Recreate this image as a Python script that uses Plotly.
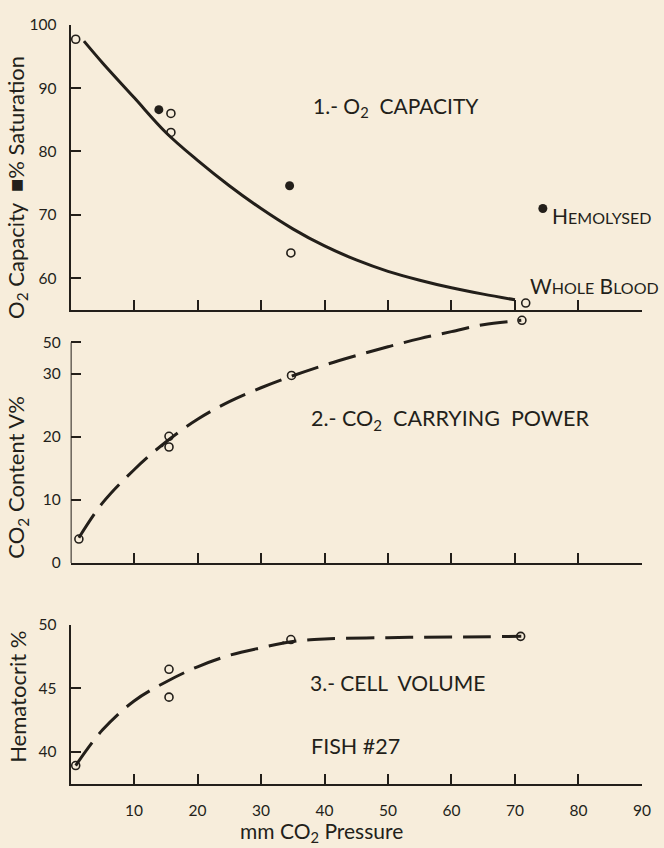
import plotly.graph_objects as go

INK = "#231f1a"
BG = "#f7eddb"
FONT = "Lato"

# ---------------- data ----------------
# Panel 1: O2 capacity / % saturation
p1_curve_x = [2.1, 5, 10, 15, 20, 25, 30, 35, 40, 45, 50, 55, 60, 65, 70]
p1_curve_y = [97.4, 94.0, 88.5, 83.0, 78.6, 74.6, 71.0, 67.8, 65.1, 62.9, 61.1, 59.7, 58.5, 57.5, 56.6]
p1_open_x = [0.8, 15.8, 15.8, 34.7, 71.7]
p1_open_y = [97.7, 86.0, 83.0, 64.0, 56.1]
p1_fill_x = [13.9, 34.5, 74.4]
p1_fill_y = [86.6, 74.6, 71.0]

# Panel 2: CO2 content (values above 30 are on the compressed top segment; tick "50" sits at 35)
p2_curve_x = [1.3, 5, 10, 15, 20, 25, 30, 35, 40, 45, 50, 55, 60, 65, 71]
p2_curve_y = [4.0, 9.5, 14.8, 19.2, 22.8, 25.6, 27.8, 29.7, 31.4, 32.9, 34.3, 35.6, 36.7, 37.8, 38.5]
p2_open_x = [1.3, 15.5, 15.5, 34.8, 71.1]
p2_open_y = [3.8, 20.1, 18.4, 29.75, 38.5]
p2_dot_x = [14.4]
p2_dot_y = [18.6]
p2_tickvals = [0, 10, 20, 30, 35]
p2_ticktext = ["0", "10", "20", "30", "50"]

# Panel 3: hematocrit
p3_curve_x = [0.8, 5, 10, 15, 20, 25, 30, 35, 40, 50, 60, 71]
p3_curve_y = [38.9, 41.7, 44.0, 45.5, 46.7, 47.6, 48.2, 48.7, 48.9, 49.0, 49.05, 49.1]
p3_open_x = [0.8, 15.5, 15.5, 34.7, 70.9]
p3_open_y = [38.9, 46.5, 44.3, 48.85, 49.1]
p3_dot_x = [33.5]
p3_dot_y = [48.6]

x_ticks = [10, 20, 30, 40, 50, 60, 70, 80, 90]

W, H = 664, 848


def px(x):
    return x / W


def py(y):
    return 1 - y / H


fig = go.Figure()

def add_panel(n, cx, cy, dash, ox, oy, fx=None, fy=None, fsize=9):
    xa = "x" if n == 1 else f"x{n}"
    ya = "y" if n == 1 else f"y{n}"
    fig.add_trace(go.Scatter(x=cx, y=cy, mode="lines", xaxis=xa, yaxis=ya,
                             line=dict(color=INK, width=3, dash=dash, shape="spline"),
                             hoverinfo="skip", showlegend=False))
    fig.add_trace(go.Scatter(x=ox, y=oy, mode="markers", xaxis=xa, yaxis=ya, cliponaxis=False,
                             marker=dict(symbol="circle-open", size=8, color=INK, line=dict(width=1.6, color=INK)),
                             showlegend=False))
    if fx is not None:
        fig.add_trace(go.Scatter(x=fx, y=fy, mode="markers", xaxis=xa, yaxis=ya, cliponaxis=False,
                                 marker=dict(symbol="circle", size=fsize, color=INK),
                                 showlegend=False))

add_panel(1, p1_curve_x, p1_curve_y, "solid", p1_open_x, p1_open_y, p1_fill_x, p1_fill_y, 9)
add_panel(2, p2_curve_x, p2_curve_y, "28px,11px", p2_open_x, p2_open_y, p2_dot_x, p2_dot_y, 3)
add_panel(3, p3_curve_x, p3_curve_y, "28px,11px", p3_open_x, p3_open_y, p3_dot_x, p3_dot_y, 3)

xdom = [px(71.6), px(650.7)]
tickfont = dict(family=FONT, size=15.5, color=INK)

common_x = dict(range=[0, 90], domain=xdom, showgrid=False, zeroline=False, showline=True,
                linecolor=INK, linewidth=2, ticks="inside", ticklen=10, tickwidth=1.6,
                tickcolor=INK, tickvals=x_ticks, tickfont=tickfont, fixedrange=True)
common_y = dict(showgrid=False, zeroline=False, linecolor=INK, linewidth=2, ticks="inside",
                ticklen=10, tickwidth=1.6, tickcolor=INK, tickfont=tickfont,
                ticklabelstandoff=9, fixedrange=True)

fig.update_layout(
    width=W, height=H,
    margin=dict(l=0, r=0, t=0, b=0),
    paper_bgcolor=BG, plot_bgcolor=BG,
    font=dict(family=FONT, color=INK),
    xaxis=dict(**common_x, anchor="y", showticklabels=False),
    yaxis=dict(**common_y, anchor="x", range=[55, 100], domain=[py(306.5), py(15)],
               showline=True, tickvals=[60, 70, 80, 90, 100]),
    xaxis2=dict(**common_x, anchor="y2", showticklabels=False),
    yaxis2=dict(**common_y, anchor="x2", range=[0, 39.5], domain=[py(565), py(310.6)],
                showline=False, tickvals=p2_tickvals, ticktext=p2_ticktext),
    xaxis3=dict(**common_x, anchor="y3", showticklabels=True, ticklabelstandoff=11),
    yaxis3=dict(**common_y, anchor="x3", range=[37.45, 50], domain=[py(790.7), py(628.3)],
                showline=True, tickvals=[40, 45, 50]),
)

# left spine of panel 2 (axis ends at the "50" tick)
fig.add_shape(type="line", xref="x2", yref="y2", x0=0, x1=0, y0=0, y1=35,
              line=dict(color=INK, width=2))

def ann(text, x, y, size=20, xanchor="center", angle=0):
    fig.add_annotation(text=text, x=px(x), y=py(y), xref="paper", yref="paper",
                       showarrow=False, xanchor=xanchor, yanchor="middle", textangle=angle,
                       font=dict(family=FONT, size=size, color=INK))

ann("1.- O<sub>2</sub>  CAPACITY", 401.7, 99, 21)
ann("H<span style='font-size:16px'>EMOLYSED</span>", 558, 210, 21, xanchor="left")
ann("W<span style='font-size:16px'>HOLE</span> B<span style='font-size:16px'>LOOD</span>", 535, 281.7, 21, xanchor="left")
ann("2.- CO<sub>2</sub>  CARRYING  POWER", 455.8, 418.3, 21.5)
ann("3.- CELL  VOLUME", 402.5, 687, 21)
ann("FISH #27", 360, 752, 21.5)
ann("mm CO<sub>2</sub> Pressure", 326, 840, 21)

ann("O<sub>2</sub> Capacity  ■% Saturation", 17, 181, 22, angle=-90)
ann("CO<sub>2</sub> Content V%", 17.5, 477.5, 22, angle=-90)
ann("Hematocrit %", 18.3, 701.7, 22, angle=-90)

fig.write_html("out.html")
